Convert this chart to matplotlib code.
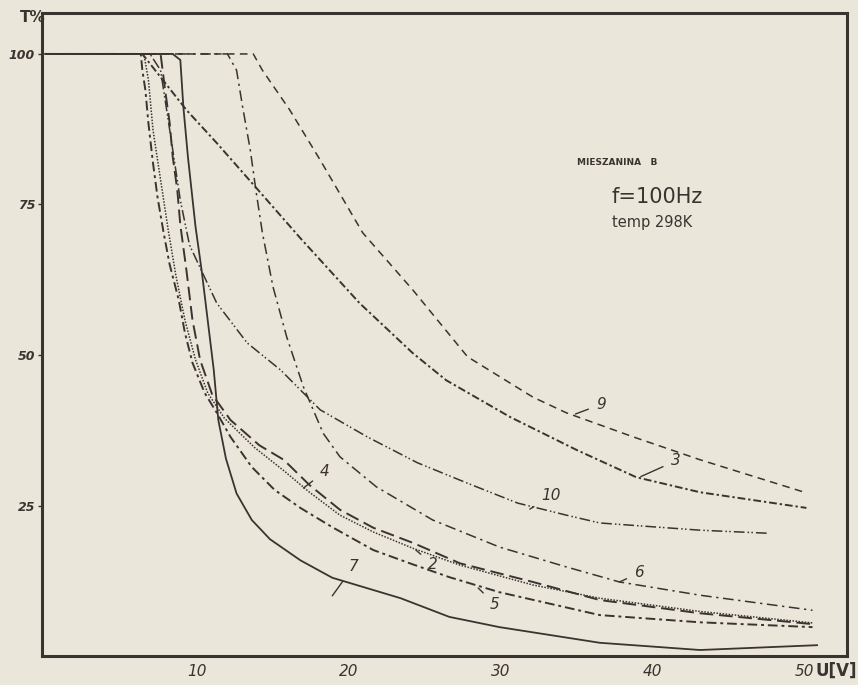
import matplotlib.pyplot as plt

# krzywe T% = f(U), mieszanina B
u9 = [0, 13.7, 14.3, 16.1, 18.1, 20.9, 24.2, 27.8, 32.1, 34.3, 38.7, 43.1, 50.1]
t9 = [100, 100, 97.3, 90.7, 82.4, 70.3, 60.8, 49.7, 43.0, 40.4, 36.4, 32.6, 27.1]

u3 = [0, 6.4, 9.3, 11.3, 14.3, 16.8, 20.7, 24.2, 26.4, 30.6, 35.0, 38.9, 43.1, 50.1]
t3 = [100, 100, 90.7, 85.2, 76.6, 69.4, 58.6, 50.3, 45.8, 39.7, 34.2, 29.7, 27.2, 24.6]

u10 = [0, 6.9, 7.6, 8.2, 8.9, 9.5, 10.2, 11.3, 13.3, 15.5, 18.1, 21.2, 24.5, 27.8, 31.1, 34.3, 36.5, 43.1, 47.5]
t10 = [100, 100, 97.3, 87.4, 75.7, 68.3, 64.5, 58.6, 52.0, 47.5, 40.9, 36.4, 32.1, 28.7, 25.4, 23.4, 22.1, 20.9, 20.4]

u6 = [0, 12.0, 12.6, 13.0, 13.5, 13.9, 14.3, 15.0, 15.9, 17.0, 18.3, 19.4, 21.8, 25.5, 29.9, 34.3, 37.8, 43.1, 50.5]
t6 = [100, 100, 97.3, 91.2, 84.1, 76.9, 70.3, 61.3, 53.0, 44.7, 37.0, 33.1, 28.1, 22.6, 18.1, 14.8, 12.3, 10.1, 7.6]

u7 = [0, 8.4, 8.9, 9.1, 9.4, 9.9, 10.3, 10.7, 11.1, 11.4, 11.9, 12.6, 13.6, 14.8, 16.8, 18.9, 23.4, 26.6, 29.9, 36.5, 43.1, 50.8]
t7 = [100, 100, 99.0, 91.2, 82.9, 71.3, 64.1, 55.8, 47.5, 39.2, 32.8, 27.0, 22.6, 19.4, 15.9, 13.0, 9.6, 6.5, 4.8, 2.2, 1.0, 1.8]

u4 = [0, 7.6, 7.9, 8.2, 8.4, 8.7, 8.9, 9.3, 9.7, 10.2, 11.0, 12.2, 14.1, 15.7, 17.4, 19.4, 21.6, 24.2, 27.3, 32.1, 36.5, 43.1, 50.5]
t4 = [100, 100, 94.0, 88.5, 82.9, 77.4, 71.6, 64.1, 55.8, 49.2, 43.4, 39.2, 35.0, 32.6, 28.4, 24.3, 21.3, 18.8, 15.4, 12.3, 9.3, 7.1, 5.3]

u2 = [0, 6.5, 6.8, 7.1, 7.6, 8.1, 8.6, 9.2, 9.9, 10.7, 11.8, 13.8, 15.8, 17.4, 19.4, 21.6, 24.2, 27.3, 32.1, 36.5, 43.1, 50.5]
t2 = [100, 100, 95.7, 87.4, 79.1, 70.8, 63.3, 55.8, 49.2, 43.7, 39.5, 34.6, 30.6, 27.2, 23.4, 20.6, 17.9, 15.1, 11.8, 9.6, 7.4, 5.5]

u5 = [0, 6.3, 6.4, 6.6, 6.8, 7.1, 7.4, 7.8, 8.2, 8.8, 9.2, 9.7, 10.5, 11.3, 12.2, 13.6, 15.1, 16.8, 18.9, 21.6, 24.0, 26.6, 29.9, 36.5, 43.1, 50.5]
t5 = [100, 100, 97.3, 94.0, 88.5, 81.9, 76.2, 70.3, 65.0, 59.1, 53.7, 48.7, 43.7, 40.4, 36.4, 31.4, 27.6, 24.6, 21.4, 17.6, 15.4, 13.1, 10.6, 6.8, 5.6, 4.8]

x_ticks = [10, 20, 30, 40, 50]
y_ticks = [25, 50, 75, 100]

kolor = '#3a3431'
tlo = '#ebe6da'

fig = plt.figure(figsize=(8.58, 6.85), dpi=100, facecolor=tlo)
ax = fig.add_axes([0.049, 0.0423, 0.938, 0.9387], facecolor=tlo)

# style linii jak na rysunku
ax.plot(u9, t9, color=kolor, lw=1.1, ls=(0, (5, 3.5)))
ax.plot(u3, t3, color=kolor, lw=1.4, ls=(0, (4, 1.5, 1.2, 1.5)))
ax.plot(u10, t10, color=kolor, lw=1.1, ls=(0, (7, 2, 1, 1.5, 1, 2)))
ax.plot(u6, t6, color=kolor, lw=1.1, ls=(0, (7, 3, 1.5, 3)))
ax.plot(u7, t7, color=kolor, lw=1.3, ls='-')
ax.plot(u4, t4, color=kolor, lw=1.4, ls=(0, (7, 3)))
ax.plot(u2, t2, color=kolor, lw=1.1, ls=(0, (1, 1)))
ax.plot(u5, t5, color=kolor, lw=1.4, ls=(0, (5, 2, 1.5, 2)))

# numery krzywych
opisy = [('9', 36.6, 41.8, 34.9, 40.2), ('3', 41.5, 32.4, 39.2, 29.8),
         ('10', 33.3, 26.6, 31.9, 24.4), ('6', 39.1, 13.8, 37.8, 12.3),
         ('4', 18.4, 30.6, 17.0, 27.9), ('2', 25.5, 15.2, 24.4, 17.6),
         ('5', 29.6, 8.6, 28.5, 11.3), ('7', 20.3, 14.9, 18.9, 10.0)]
for txt, xt, yt, xp, yp in opisy:
    ax.annotate(txt, xy=(xp, yp), xytext=(xt, yt), fontsize=11, color=kolor,
                style='italic', ha='center', va='center',
                arrowprops=dict(arrowstyle='-', color=kolor, lw=1.0, shrinkA=4, shrinkB=0))

ax.text(35.0, 82.0, 'MIESZANINA   B', fontsize=6.5, fontweight='bold', color=kolor, va='center')
ax.text(37.3, 76.3, 'f=100Hz', fontsize=15, color=kolor, va='center')
ax.text(37.3, 72.0, 'temp 298K', fontsize=10.5, color=kolor, va='center')

ax.set_xlim(-0.2, 52.76)
ax.set_ylim(0, 106.8)
ax.set_xticks(x_ticks)
ax.set_xticklabels([str(v) for v in x_ticks], style='italic', fontsize=11)
ax.set_yticks(y_ticks)
ax.set_yticklabels(['25', '50', '75', '100'], style='italic', fontsize=9, fontweight='bold')
ax.tick_params(axis='x', length=0, pad=6, colors=kolor)
ax.tick_params(axis='y', length=3, width=1, pad=2, colors=kolor)
for s in ax.spines.values():
    s.set_linewidth(2.2)
    s.set_color(kolor)

fig.text(0.023, 0.968, 'T%', fontsize=11, fontweight='bold', color=kolor)
fig.text(0.975, 0.013, 'U[V]', fontsize=12, fontweight='bold', color=kolor, ha='center')

plt.savefig('out.png', dpi=100, facecolor=tlo)
